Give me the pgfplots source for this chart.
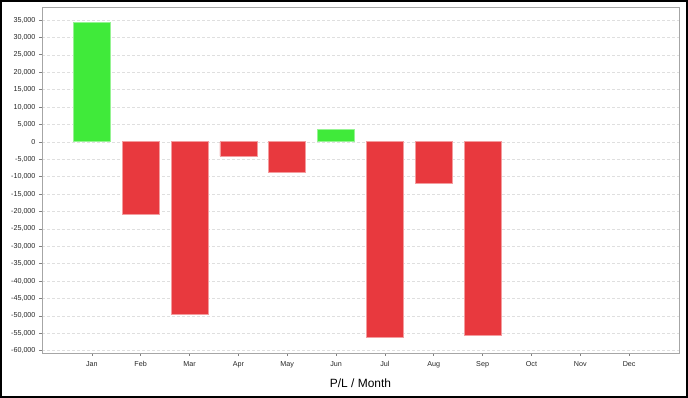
\documentclass[border=0pt]{standalone}
\usepackage{fontspec}
\setmainfont{Liberation Sans}
\usepackage{pgfplots}
\pgfplotsset{compat=1.18}
\definecolor{barred}{RGB}{232,57,62}
\definecolor{bargreen}{RGB}{64,234,58}
\begin{document}
\begin{tikzpicture}
\begin{axis}[name=ax, scale only axis, width=637bp, height=346bp,
  xmin=-1.02, xmax=12.02, ymin=-60650, ymax=38730,
  xtick={0,1,2,3,4,5,6,7,8,9,10,11},
  xticklabels={Jan,Feb,Mar,Apr,May,Jun,Jul,Aug,Sep,Oct,Nov,Dec},
  ytick={-60000,-55000,...,35000},
  xtick pos=bottom, ytick pos=left,
  scaled y ticks=false,
  /pgf/number format/assume math mode=true,
  /pgf/number format/1000 sep={,},
  ybar, bar width=37bp, bar shift=0pt,
  ymajorgrids, grid style={gray!25, dash pattern=on 3bp off 2bp, line width=0.5bp},
  tick align=outside, major tick length=3bp,
  tick style={gray, line width=0.6bp},
  axis line style={gray!70, line width=0.8bp},
  ticklabel style={font=\fontsize{7.2}{8}\selectfont, text=black!85},
  xticklabel style={yshift=-2bp},
  xlabel={P/L / Month},
  xlabel style={font=\fontsize{12}{13}\selectfont, at={(axis description cs:0.5,0)}, anchor=center, yshift=-30bp},
]
\addplot[fill=bargreen, draw=bargreen!55!white, line width=0.7bp] coordinates {(0,34200) (5,3450)};
\addplot[fill=barred, draw=barred!50!white, line width=0.7bp] coordinates {(1,-20900) (2,-49500) (3,-4100) (4,-8800) (6,-56100) (7,-11900) (8,-55700)};
\end{axis}
\draw[black, line width=2bp] ([xshift=-41bp,yshift=-44bp]ax.south west) rectangle ([xshift=8bp,yshift=6bp]ax.north east);
\end{tikzpicture}
\end{document}
